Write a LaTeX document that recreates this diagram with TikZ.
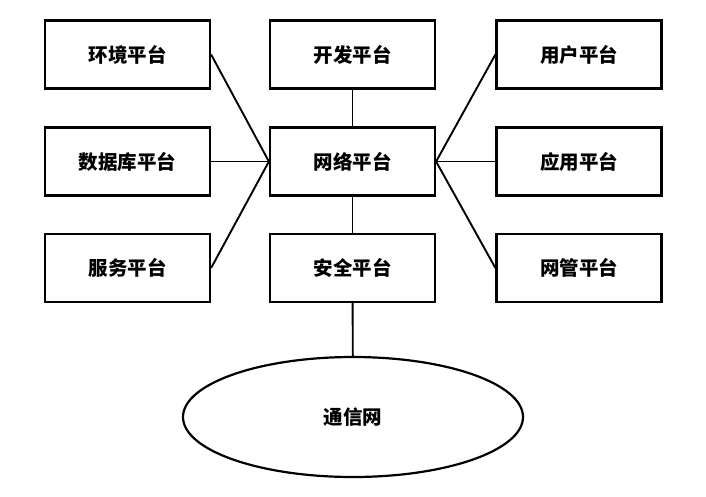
\documentclass[tikz,border=0pt]{standalone}
\usepackage{fontspec}
\newfontfamily\cjk{Noto Sans CJK SC}
\usepackage{tikz}
\usetikzlibrary{shapes.geometric, positioning}

\begin{document}
\begin{tikzpicture}[x=1pt, y=-1pt,
    every node/.style={font=\cjk\bfseries\fontsize{19.5}{22}\selectfont},
    platbox/.style={draw, line width=2.2pt, minimum width=165pt, minimum height=68pt, inner sep=0pt},
    every path/.style={line width=1.9pt}]
            \useasboundingbox (0,0) rectangle (706,496);
            \node[platbox] (hj) at (127.5,54.5) {环境平台};
            \node[platbox] (kf) at (352.5,54.5) {开发平台};
            \node[platbox] (yh) at (579,54.5) {用户平台};
            \node[platbox] (sjk) at (127.5,161.5) {数据库平台};
            \node[platbox] (wl) at (352.5,161.5) {网络平台};
            \node[platbox] (yy) at (579,161.5) {应用平台};
            \node[platbox] (fw) at (127.5,268) {服务平台};
            \node[platbox] (aq) at (352.5,268) {安全平台};
            \node[platbox] (wg) at (579,268) {网管平台};
            \node[draw, ellipse, line width=2.2pt, minimum width=340pt, minimum height=120pt] (tx) at (353,417) {通信网};
            \draw (hj.east) -- (wl.west);
            \draw (sjk.east) -- (wl.west);
            \draw (fw.east) -- (wl.west);
            \draw (wl.east) -- (yh.west);
            \draw (wl.east) -- (yy.west);
            \draw (wl.east) -- (wg.west);
            \draw (kf) -- (wl);
            \draw (wl) -- (aq);
            \draw (aq) -- (tx);
        \end{tikzpicture}
\end{document}
